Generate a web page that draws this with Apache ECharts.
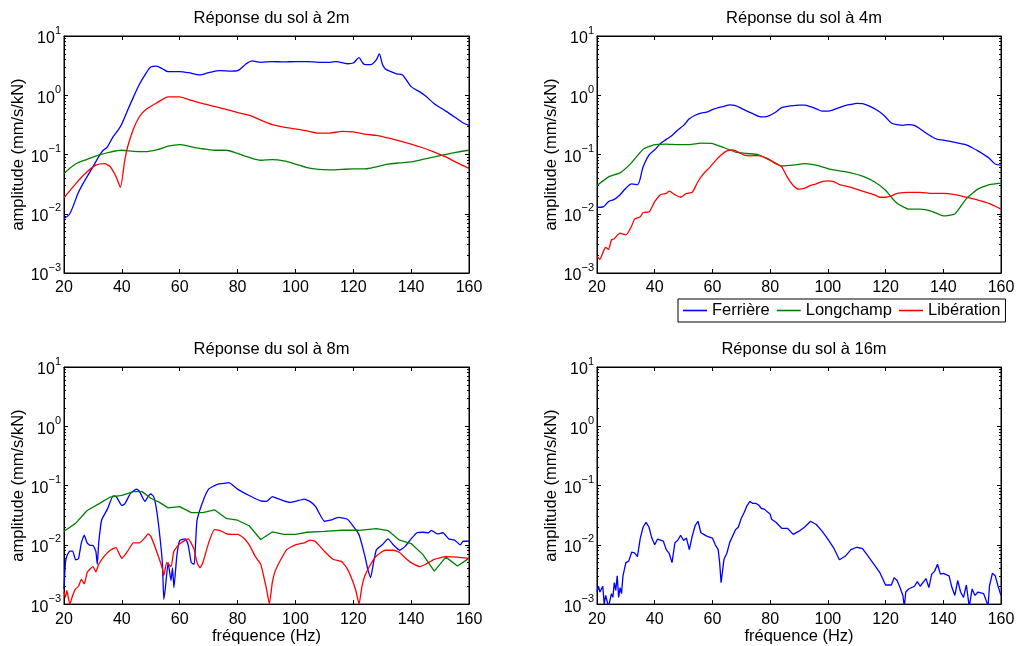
<!DOCTYPE html>
<html><head><meta charset="utf-8">
<script src="https://cdn.jsdelivr.net/npm/echarts@6/dist/echarts.min.js"></script>
<style>html,body{margin:0;padding:0;background:#fff}#c{width:1018px;height:646px}</style>
</head><body><div id="c"></div>
<script>
// ---------------- DATA ----------------
const seriesNames = ['Ferrière', 'Longchamp', 'Libération'];
const panelTitles = ['Réponse du sol à 2m', 'Réponse du sol à 4m', 'Réponse du sol à 8m', 'Réponse du sol à 16m'];
const xTickValues = [20, 40, 60, 80, 100, 120, 140, 160];
const yDecades = [0.001, 0.01, 0.1, 1, 10];

// 2 m
const f2_fer = [20,22,25,27,30,33,35,37,39,40,42,44,46,48,50,52,54,56,60,63,67,70,74,78,80,83,85,88,92,96,100,104,108,112,114,118,120,122,123,124,126,128,129,130,131,133,135,137,140,143,145,148,152,155,158,160];
const a2_fer = [0.0083,0.010,0.023,0.035,0.062,0.11,0.135,0.2,0.27,0.33,0.56,0.93,1.5,2.2,3.0,3.1,2.8,2.5,2.5,2.4,2.2,2.4,2.6,2.55,2.6,3.4,3.8,3.6,3.7,3.65,3.7,3.7,3.6,3.6,3.7,3.4,3.5,4.3,3.65,3.3,3.3,4.0,5.0,3.4,2.8,2.5,2.3,2.2,1.4,1.14,0.97,0.72,0.54,0.43,0.34,0.31];
const f2_lon = [20,24,28,32,36,40,44,48,52,56,60,64,68,72,76,80,84,88,92,96,100,104,108,112,116,120,124,128,132,136,140,144,148,152,156,160];
const a2_lon = [0.048,0.069,0.083,0.098,0.11,0.118,0.113,0.112,0.12,0.138,0.147,0.135,0.125,0.118,0.118,0.104,0.089,0.080,0.082,0.078,0.069,0.060,0.056,0.055,0.056,0.057,0.057,0.062,0.069,0.072,0.075,0.083,0.091,0.10,0.11,0.118];
const f2_lib = [20,24,28,31,34,36,38,39.5,41,42,44,46,48,52,56,60,64,68,72,76,80,84,88,92,96,100,104,108,112,116,120,124,128,132,136,140,144,148,152,156,160];
const a2_lib = [0.0186,0.032,0.051,0.066,0.070,0.062,0.042,0.028,0.08,0.135,0.27,0.43,0.56,0.74,0.94,0.94,0.82,0.72,0.65,0.58,0.51,0.46,0.38,0.32,0.29,0.27,0.25,0.23,0.23,0.245,0.24,0.22,0.21,0.19,0.17,0.15,0.13,0.11,0.091,0.072,0.058];

// 4 m
const f4_fer = [20,22,24,26,28,30,32,34,36,38,40,42,44,46,48,50,52,54,56,58,60,62,64,66,68,70,72,74,76,78,80,82,84,86,88,90,92,94,96,98,100,102,104,106,108,110,112,114,116,118,120,122,124,126,128,130,132,134,136,138,140,142,144,146,148,150,152,154,156,158,160];
const a4_fer = [0.0128,0.013,0.016,0.0175,0.021,0.027,0.032,0.031,0.062,0.098,0.12,0.153,0.18,0.21,0.26,0.31,0.40,0.46,0.50,0.52,0.57,0.62,0.65,0.69,0.67,0.60,0.54,0.49,0.44,0.43,0.46,0.52,0.62,0.65,0.67,0.68,0.68,0.64,0.59,0.54,0.54,0.57,0.62,0.67,0.70,0.73,0.72,0.67,0.60,0.52,0.43,0.34,0.32,0.31,0.32,0.31,0.27,0.23,0.20,0.18,0.175,0.168,0.16,0.153,0.145,0.13,0.115,0.10,0.086,0.069,0.066];
const f4_lon = [20,24,28,32,36,40,44,48,52,56,60,64,68,72,76,80,84,88,92,96,100,104,108,112,116,120,122,124,128,132,136,140,144,148,152,156,160];
const a4_lon = [0.030,0.042,0.049,0.073,0.123,0.147,0.15,0.147,0.147,0.155,0.153,0.13,0.11,0.104,0.099,0.080,0.064,0.066,0.070,0.066,0.058,0.053,0.049,0.043,0.035,0.025,0.019,0.015,0.012,0.012,0.011,0.0092,0.0099,0.018,0.026,0.031,0.033];
const f4_lib = [20,21,22,23,24,25,26,28,30,32,33,35,36,38,40,42,44,45,47,49,51,53,55,57,59,61,63,65,67,69,71,73,76,79,82,84,86,88,90,92,94,96,98,100,102,104,108,112,116,118,120,122,124,128,132,136,140,144,148,152,156,160];
const a4_lib = [0.0019,0.0017,0.0022,0.0027,0.0025,0.0036,0.0038,0.0047,0.0044,0.0062,0.0081,0.0089,0.0105,0.0107,0.016,0.021,0.022,0.024,0.021,0.019,0.022,0.023,0.035,0.048,0.060,0.078,0.098,0.115,0.12,0.11,0.098,0.095,0.096,0.086,0.070,0.062,0.041,0.030,0.026,0.027,0.030,0.032,0.035,0.036,0.035,0.031,0.028,0.024,0.021,0.019,0.019,0.020,0.022,0.023,0.023,0.022,0.022,0.021,0.019,0.017,0.0148,0.012];

// 8 m
const f8_fer = [20,20.5,21,22,23,24,25,26,27,28,29,30,31,31.5,32,33,35,37,38,40,41,43,45,46,48,49,50,51,52,53,54,54.5,55,56,57,57.5,58,59,60,62,63,64,65,65.5,66,68,70,73,76,77,80,84,88,90,92,94,96,98,100,103,105,107,110,112,115,118,120,122,124,125,126,127,128,130,132,134,136,138,140,142,144,146,147,149,151,153,155,157,158,160];
const a8_fer = [0.0018,0.005,0.0065,0.0078,0.0078,0.0056,0.0058,0.0108,0.0145,0.0108,0.0098,0.0098,0.0078,0.0047,0.0108,0.026,0.040,0.067,0.066,0.046,0.049,0.074,0.087,0.081,0.054,0.065,0.072,0.065,0.039,0.016,0.005,0.0012,0.0018,0.005,0.0025,0.0041,0.0019,0.0065,0.0118,0.0126,0.0095,0.005,0.0047,0.011,0.026,0.054,0.087,0.105,0.11,0.112,0.087,0.068,0.055,0.054,0.065,0.060,0.055,0.052,0.054,0.059,0.054,0.044,0.025,0.026,0.029,0.027,0.0205,0.0148,0.0065,0.0039,0.0028,0.005,0.0083,0.010,0.0126,0.0098,0.0081,0.0095,0.0126,0.016,0.0163,0.016,0.0175,0.0153,0.016,0.0126,0.012,0.010,0.0115,0.0115];
const f8_lon = [20,24,28,32,36,40,44,47,50,53,56,60,64,68,72,76,80,84,88,92,96,100,104,110,116,122,128,132,136,140,144,148,152,156,160];
const a8_lon = [0.017,0.023,0.038,0.049,0.064,0.068,0.079,0.079,0.061,0.052,0.042,0.044,0.035,0.035,0.039,0.028,0.026,0.021,0.0123,0.0165,0.015,0.015,0.0163,0.0169,0.0176,0.0176,0.0188,0.0174,0.012,0.0105,0.0069,0.0036,0.0062,0.0044,0.0059];
const f8_lib = [20,20.5,21,22,23,24,25,26,27,28,29,30,31,32,34,36,38,39,40,42,44,46,48,49,50,52,54,54.5,55.5,57,58,60,62,63,64,65,66,67,68,70,72,74,76,78,80,82,84,86,88,89,90,91,92,93,95,97,100,103,105,107,110,113,116,118,120,121,122,123,124,126,128,131,134,136,138,140,143,145,148,152,156,160];
const a8_lib = [0.0016,0.0013,0.0017,0.001,0.0014,0.0018,0.0020,0.0026,0.0022,0.0034,0.0039,0.0043,0.0035,0.0047,0.0065,0.0081,0.009,0.0072,0.0059,0.0078,0.0108,0.0108,0.0132,0.0153,0.014,0.0078,0.004,0.003,0.005,0.0043,0.0078,0.0104,0.012,0.0126,0.0106,0.0083,0.005,0.0041,0.005,0.0108,0.018,0.0174,0.0155,0.015,0.015,0.0132,0.0101,0.0065,0.0047,0.003,0.0018,0.001,0.0023,0.0036,0.0057,0.0083,0.010,0.0108,0.012,0.0113,0.0078,0.0057,0.0052,0.0039,0.0023,0.0016,0.001,0.0020,0.003,0.0047,0.0065,0.0081,0.0081,0.0074,0.006,0.005,0.0043,0.0047,0.0057,0.0063,0.0062,0.0059];

// 16 m
const f16_fer = [20,20.5,21,22,22.5,23,24,25,25.5,26,26.5,27,27.5,28,28.5,29,30,31,32,33,34,35,36,37,38,39,40,41,43,44,45,46,47,48,49,50,51,52,53,54,55,56,57,58,60,61,62,62.5,63,64,65,66,68,69,70,71,72,73,74,75,76,77,78,79,80,80.5,82,84,86,88,90,92,94,96,98,100,102,104,106,108,110,112,114,116,118,120,122,123,124,125,126,126.5,127,128,130,131,132,134,135,136,137,138,139,140,142,143,144,145,146,147,148,149,150,151,152,154,155,155.5,156,157,158,159,160];
const a16_fer = [0.0016,0.002,0.0016,0.0020,0.001,0.0014,0.0009,0.0015,0.0013,0.0023,0.0017,0.003,0.0013,0.0019,0.0015,0.003,0.005,0.0053,0.0075,0.0073,0.0063,0.013,0.020,0.024,0.020,0.013,0.010,0.0125,0.0115,0.0083,0.0072,0.005,0.0108,0.012,0.0145,0.0118,0.013,0.0083,0.014,0.021,0.025,0.016,0.015,0.014,0.013,0.010,0.0083,0.005,0.0023,0.0057,0.0072,0.011,0.018,0.020,0.028,0.035,0.046,0.054,0.050,0.050,0.047,0.041,0.04,0.036,0.033,0.027,0.024,0.019,0.019,0.015,0.017,0.020,0.025,0.022,0.017,0.0125,0.0089,0.0056,0.0064,0.0083,0.0091,0.0086,0.0064,0.0047,0.0034,0.0021,0.0021,0.0028,0.0025,0.0019,0.0014,0.0009,0.0016,0.0018,0.002,0.0024,0.002,0.0027,0.0019,0.0032,0.0036,0.0047,0.0032,0.0033,0.003,0.0019,0.0014,0.0025,0.0016,0.0013,0.0021,0.0009,0.0018,0.0014,0.0016,0.0015,0.0011,0.0009,0.0020,0.0033,0.003,0.002,0.0014];

// ---------------- CHART ----------------
const FONT = '"Liberation Sans", Arial, Helvetica, sans-serif';
const COLORS = {'Ferrière': '#0000ff', 'Longchamp': '#008000', 'Libération': '#ff0000'};
const grids = [
  {left: 64, top: 36, width: 405, height: 237},
  {left: 597, top: 36, width: 404, height: 237},
  {left: 64, top: 367, width: 405, height: 238},
  {left: 597, top: 367, width: 404, height: 238}
];
const panels = [
  [['Ferrière', f2_fer, a2_fer, 0.3], ['Longchamp', f2_lon, a2_lon, 0.3], ['Libération', f2_lib, a2_lib, 0.2]],
  [['Ferrière', f4_fer, a4_fer, 0.3], ['Longchamp', f4_lon, a4_lon, 0.15], ['Libération', f4_lib, a4_lib, 0.2]],
  [['Ferrière', f8_fer, a8_fer, 0.15], ['Longchamp', f8_lon, a8_lon, 0], ['Libération', f8_lib, a8_lib, 0.15]],
  [['Ferrière', f16_fer, a16_fer, 0]]
];
// minor tick positions (exponent space) for the log scale
const minorExps = [];
for (let d = -3; d < 1; d++) for (let k = 2; k <= 9; k++) minorExps.push(d + Math.log10(k));

function expLabel(v) {
  const e = Math.round(Math.log10(v));
  return '{b|10}{e|' + (e < 0 ? '\u2212' + (-e) : String(e)) + '}';
}

const xAxis = [], yAxis = [], series = [], title = [];
grids.forEach((g, i) => {
  const bottomRow = i >= 2;
  title.push({
    text: panelTitles[i], left: g.left + g.width / 2, top: g.top - 31, textAlign: 'center',
    textStyle: {fontFamily: FONT, fontSize: 16.5, fontWeight: 'normal', color: '#000'}
  });
  const xCommon = {
    type: 'value', gridIndex: i, min: 20, max: 160, interval: 20,
    axisLine: {show: true, onZero: false, lineStyle: {color: '#000', width: 1}},
    axisTick: {show: true, inside: true, length: 4, lineStyle: {color: '#000'}},
    splitLine: {show: false}
  };
  xAxis.push(Object.assign({}, xCommon, {
    position: 'bottom',
    axisLabel: {show: true, fontFamily: FONT, fontSize: 16, color: '#000', margin: 7},
    name: bottomRow ? 'fréquence (Hz)' : '', nameLocation: 'middle', nameGap: 20,
    nameTextStyle: {fontFamily: FONT, fontSize: 16.5, color: '#000'}
  }));
  xAxis.push(Object.assign({}, xCommon, {position: 'top', axisLabel: {show: false}}));
  const yLog = {
    type: 'log', logBase: 10, gridIndex: i, min: 0.001, max: 10,
    axisLine: {show: true, onZero: false, lineStyle: {color: '#000', width: 1}},
    axisTick: {show: true, inside: true, length: 4, lineStyle: {color: '#000'}},
    splitLine: {show: false}
  };
  yAxis.push(Object.assign({}, yLog, {
    position: 'left',
    axisLabel: {
      show: true, margin: 3, formatter: expLabel, color: '#000',
      rich: {
        b: {fontFamily: FONT, fontSize: 16, color: '#000', lineHeight: 22, verticalAlign: 'bottom'},
        e: {fontFamily: FONT, fontSize: 11, color: '#000', lineHeight: 12, verticalAlign: 'top'}
      }
    },
    name: 'amplitude (mm/s/kN)', nameLocation: 'middle', nameRotate: 90, nameGap: 34,
    nameTextStyle: {fontFamily: FONT, fontSize: 16.5, color: '#000'}
  }));
  yAxis.push(Object.assign({}, yLog, {position: 'right', axisLabel: {show: false}}));
  const yMinor = {
    type: 'value', gridIndex: i, min: -3, max: 1,
    axisLine: {show: false, onZero: false}, axisLabel: {show: false}, splitLine: {show: false},
    axisTick: {show: true, inside: true, length: 2, customValues: minorExps, lineStyle: {color: '#000'}}
  };
  yAxis.push(Object.assign({}, yMinor, {position: 'left'}));
  yAxis.push(Object.assign({}, yMinor, {position: 'right'}));

  panels[i].forEach(([name, f, a, sm]) => {
    series.push({
      name: name, type: 'line', xAxisIndex: 2 * i, yAxisIndex: 4 * i,
      data: f.map((x, k) => [x, a[k]]),
      symbol: 'none', showSymbol: false, smooth: sm, clip: true,
      lineStyle: {color: COLORS[name], width: 1.3}, itemStyle: {color: COLORS[name]},
      z: 3
    });
  });
});

const chart = echarts.init(document.getElementById('c'), null, {renderer: 'canvas'});
chart.setOption({
  animation: false,
  backgroundColor: '#fff',
  title: title,
  grid: grids.map(g => Object.assign({show: true, borderColor: '#000', borderWidth: 1, backgroundColor: '#fff'}, g)),
  legend: {
    data: seriesNames.map(n => ({name: n, icon: 'rect'})),
    left: 678, top: 299, orient: 'horizontal',
    padding: [3, 5, 3, 5], itemGap: 7, itemWidth: 24, itemHeight: 1.6,
    borderColor: '#000', borderWidth: 1, backgroundColor: '#fff',
    textStyle: {fontFamily: FONT, fontSize: 16.5, color: '#000'}
  },
  xAxis: xAxis, yAxis: yAxis, series: series
});
</script></body></html>
